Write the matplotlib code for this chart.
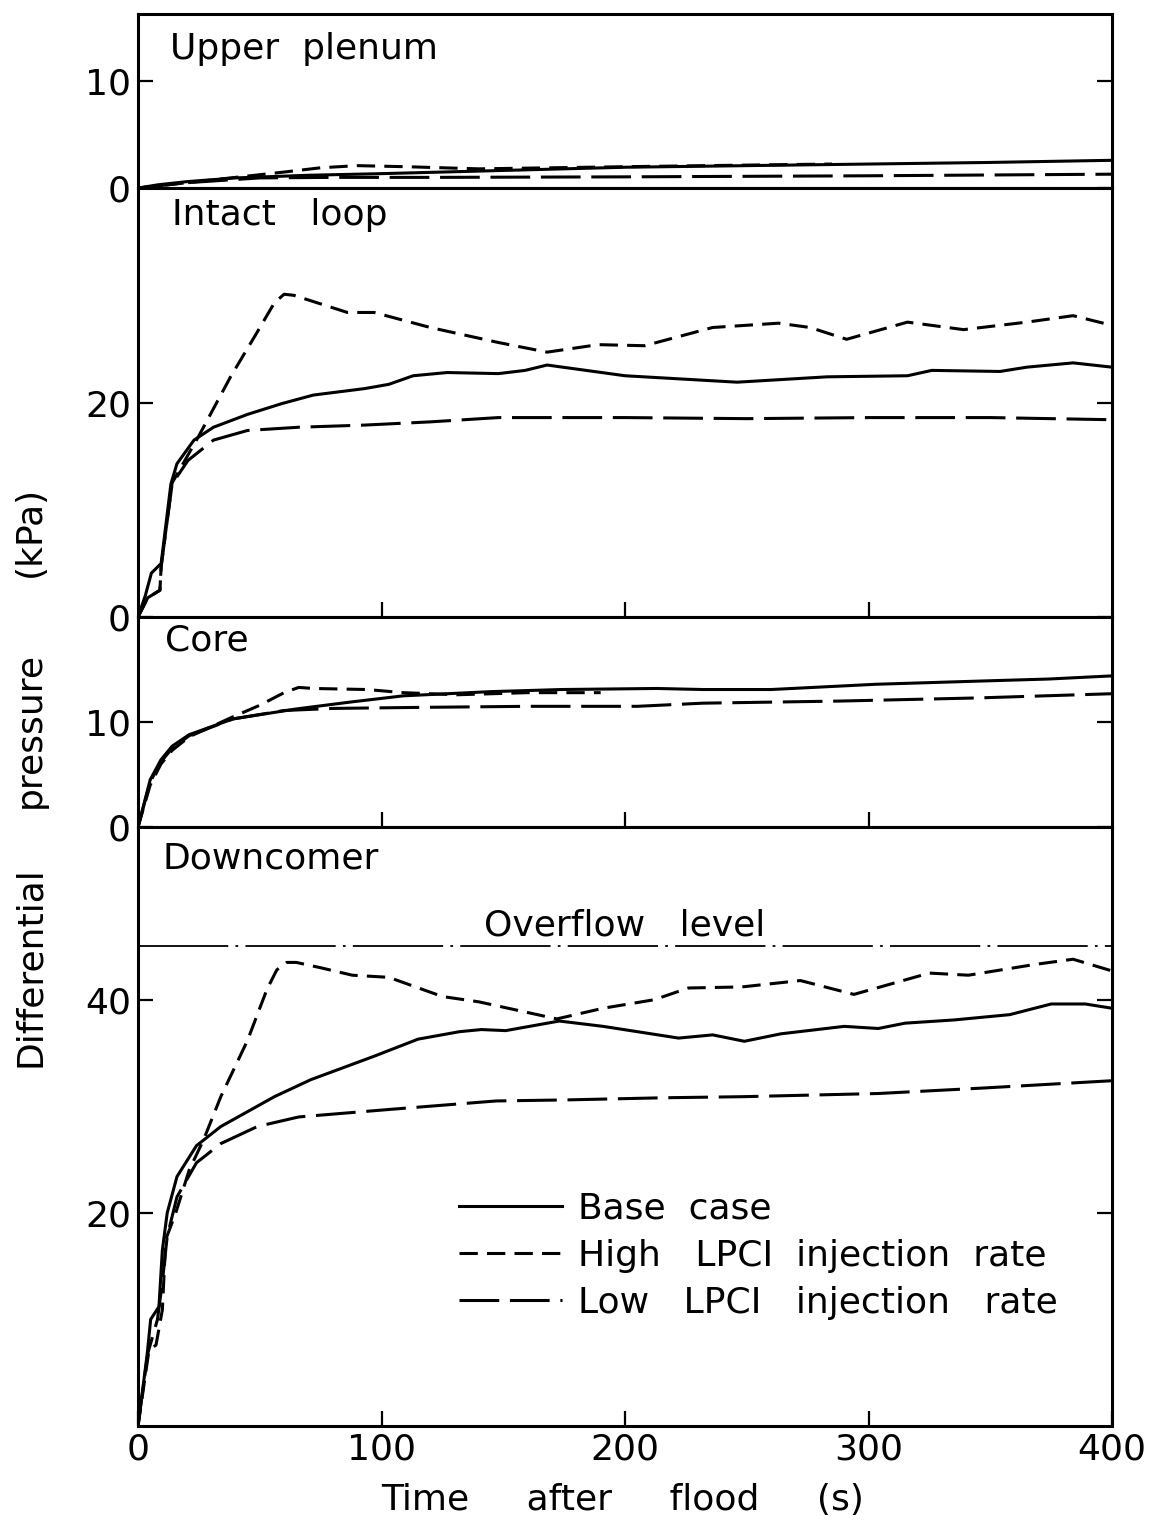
import matplotlib
matplotlib.use('Agg')
import matplotlib.pyplot as plt

# Upper plenum
t_up_base = [0, 8, 20, 40, 70, 100, 150, 200, 250, 300, 350, 400]
v_up_base = [0, 0.3, 0.6, 0.95, 1.2, 1.35, 1.65, 1.95, 2.1, 2.25, 2.4, 2.6]
t_up_high = [0, 20, 40, 60, 75, 90, 110, 140, 200, 250, 285]
v_up_high = [0, 0.5, 1.0, 1.5, 1.9, 2.1, 2.0, 1.8, 2.0, 2.15, 2.25]
t_up_low = [0, 20, 50, 80, 120, 200, 300, 400]
v_up_low = [0, 0.5, 0.95, 1.0, 1.0, 1.05, 1.15, 1.3]

# Intact loop
t_il_base = [0, 3, 5.5, 9.5, 13.5, 16, 23, 31, 45, 59, 72, 93, 103, 113, 127, 148, 159, 168,
             200, 246, 283, 316, 326, 354, 365, 384, 400]
v_il_base = [0, 2.0, 4.1, 5.0, 12.4, 14.3, 16.5, 17.7, 18.9, 19.9, 20.7, 21.3, 21.7, 22.5, 22.8,
             22.7, 23.0, 23.5, 22.5, 21.9, 22.4, 22.5, 23.0, 22.9, 23.3, 23.7, 23.3]
t_il_high = [0, 4, 9, 9.5, 14, 25, 38, 48, 56, 60, 64, 75, 86, 97, 120, 148, 168, 189, 208, 236,
             263, 276, 291, 316, 339, 365, 384, 400]
v_il_high = [0, 1.8, 2.5, 4.7, 12.5, 16.9, 22.4, 26.2, 29.3, 30.1, 30.0, 29.2, 28.4, 28.4, 27.0,
             25.6, 24.7, 25.4, 25.3, 27.0, 27.4, 27.0, 25.9, 27.5, 26.8, 27.5, 28.1, 27.2]
t_il_low = [0, 4, 9, 9.5, 14, 20.5, 31, 45, 66, 93, 120, 148, 200, 250, 300, 350, 400]
v_il_low = [0, 1.8, 2.5, 4.7, 12.4, 14.6, 16.5, 17.4, 17.7, 17.9, 18.2, 18.6, 18.6, 18.5, 18.6,
            18.6, 18.4]

# Core
t_co_base = [0, 5, 9.4, 14, 21, 39, 65, 87, 109, 145, 174, 213, 232, 260, 303, 345, 374, 400]
v_co_base = [0, 4.5, 6.4, 7.7, 8.8, 10.3, 11.25, 11.9, 12.5, 12.9, 13.1, 13.2, 13.1, 13.1, 13.6,
             13.9, 14.1, 14.4]
t_co_high = [0, 5, 9.4, 14, 21, 39, 50, 60, 66, 72, 94, 109, 131, 160, 190]
v_co_high = [0, 4.0, 6.0, 7.3, 8.6, 10.5, 11.6, 12.8, 13.3, 13.2, 13.1, 12.8, 12.6, 12.8, 12.8]
t_co_low = [0, 5, 9.4, 14, 21, 39, 60, 80, 116, 160, 205, 232, 288, 345, 400]
v_co_low = [0, 4.3, 6.2, 7.5, 8.7, 10.3, 11.1, 11.3, 11.4, 11.5, 11.5, 11.8, 12.0, 12.3, 12.7]

# Downcomer
t_dc_base = [0, 3.8, 5.2, 8.6, 10, 12, 16, 24, 34, 56, 71, 97, 115, 132, 141, 151, 173, 191, 222,
             236, 249, 264, 290, 304, 315, 335, 358, 375, 389, 400]
v_dc_base = [0, 6.8, 10.0, 11.2, 16.5, 20.0, 23.4, 26.3, 28.1, 30.9, 32.5, 34.7, 36.3, 37.0, 37.2,
             37.1, 38.0, 37.5, 36.4, 36.7, 36.1, 36.8, 37.5, 37.3, 37.8, 38.1, 38.6, 39.6, 39.6, 39.2]
t_dc_high = [0, 4.5, 7.4, 10, 11.4, 15.5, 21, 27, 34, 45, 53, 57, 61, 65, 75, 88, 103, 125, 140,
             172, 191, 212, 226, 248, 272, 294, 325, 341, 368, 384, 400]
v_dc_high = [0, 7.1, 7.6, 10.9, 17.5, 20.0, 24.0, 26.9, 30.9, 36.2, 41.0, 42.8, 43.5, 43.5, 43.0,
             42.3, 42.1, 40.3, 39.8, 38.2, 39.2, 40.0, 41.1, 41.2, 41.8, 40.5, 42.5, 42.3, 43.3,
             43.8, 42.7]
t_dc_low = [0, 4, 8, 10, 12, 16, 24, 34, 49, 66, 103, 147, 176, 216, 248, 304, 346, 400]
v_dc_low = [0, 6.8, 10.0, 13.5, 17.8, 21.5, 24.7, 26.5, 28.1, 29.0, 29.7, 30.5, 30.6, 30.8, 30.9,
            31.2, 31.7, 32.4]
overflow = 45

labels = ["Base  case", "High   LPCI  injection  rate", "Low   LPCI   injection   rate"]

FS = 26
LW = 2.2
plt.rcParams['font.size'] = FS

fig = plt.figure(figsize=(11.5, 15.24), dpi=100)

# panels stacked without gaps (figure fractions)
L, R = 0.12, 0.967
bounds = [0.9908, 0.8766, 0.5951, 0.4573, 0.0643]
axes = []
for i in range(4):
    ax = fig.add_axes([L, bounds[i + 1], R - L, bounds[i] - bounds[i + 1]])
    axes.append(ax)
ax1, ax2, ax3, ax4 = axes

panels = [
    (ax1, t_up_base, v_up_base, t_up_high, v_up_high, t_up_low, v_up_low),
    (ax2, t_il_base, v_il_base, t_il_high, v_il_high, t_il_low, v_il_low),
    (ax3, t_co_base, v_co_base, t_co_high, v_co_high, t_co_low, v_co_low),
    (ax4, t_dc_base, v_dc_base, t_dc_high, v_dc_high, t_dc_low, v_dc_low),
]
for ax, tb, vb, th, vh, tl, vl in panels:
    ax.plot(tb, vb, color='black', lw=LW, label=labels[0])
    ax.plot(th, vh, color='black', lw=LW, dashes=(6, 3), label=labels[1])
    ax.plot(tl, vl, color='black', lw=LW, dashes=(13, 3.5), label=labels[2])
    ax.set_xlim(0, 400)
    for s in ax.spines.values():
        s.set_linewidth(LW)
    ax.tick_params(direction='in', length=11, width=1.6, right=True, labelsize=FS, pad=5)

ax1.set_ylim(0, 16.3)
ax2.set_ylim(0, 40)
ax3.set_ylim(0, 20)
ax4.set_ylim(0, 56.2)

ax1.set_yticks([0, 10])
ax2.set_yticks([0, 20])
ax3.set_yticks([0, 10])
ax4.set_yticks([20, 40])

ax1.set_xticks([])
for ax in (ax2, ax3):
    ax.set_xticks([100, 200, 300])
    ax.set_xticklabels([])
ax4.set_xticks([0, 100, 200, 300, 400])

# overflow level in the downcomer
ax4.axhline(overflow, color='black', lw=1.3, dashes=(50, 4, 1.5, 4))
ax4.text(200, 47.0, "Overflow   level", ha='center', va='center', fontsize=FS)

# panel names
ax1.text(0.033, 0.80, "Upper  plenum", transform=ax1.transAxes, va='center', fontsize=FS)
ax2.text(0.035, 0.937, "Intact   loop", transform=ax2.transAxes, va='center', fontsize=FS)
ax3.text(0.028, 0.89, "Core", transform=ax3.transAxes, va='center', fontsize=FS)
ax4.text(0.025, 0.948, "Downcomer", transform=ax4.transAxes, va='center', fontsize=FS)

ax4.legend(loc='upper left', bbox_to_anchor=(0.33, 0.392), frameon=False, fontsize=FS,
           handlelength=2.83, handletextpad=0.45, labelspacing=0.37, borderpad=0, borderaxespad=0)

# axis titles
fig.text(0.026, 0.3655, "Differential", rotation=90, ha='center', va='center', fontsize=FS)
fig.text(0.026, 0.521, "pressure", rotation=90, ha='center', va='center', fontsize=FS)
fig.text(0.026, 0.651, "(kPa)", rotation=90, ha='center', va='center', fontsize=FS)
fig.text(0.541, 0.0157, "Time     after     flood     (s)", ha='center', va='center', fontsize=FS)

fig.savefig('out.png', dpi=100)
